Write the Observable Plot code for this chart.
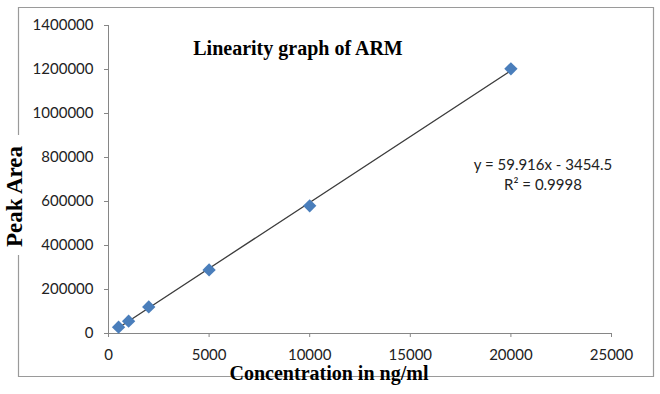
<!DOCTYPE html>
<html><head><meta charset="utf-8">
<script src="https://cdn.jsdelivr.net/npm/d3@7"></script>
<script src="https://cdn.jsdelivr.net/npm/@observablehq/plot@0.6"></script>
<style>body{margin:0;background:#fff}</style>
</head><body><div id="chart"></div><script>
const concentration = [500, 1000, 2000, 5000, 10000, 20000];
const peakArea = [28600, 56000, 121000, 289000, 580500, 1203000];
const xTicks = [0, 5000, 10000, 15000, 20000, 25000];
const yTicks = [0, 200000, 400000, 600000, 800000, 1000000, 1200000, 1400000];
const slope = 59.916, intercept = -3454.5;
const equationText = ["y = 59.916x - 3454.5", "R² = 0.9998"];
const titleText = "Linearity graph of ARM";
const xTitle = "Concentration in ng/ml";
const yTitle = "Peak Area";

const points = concentration.map((x, i) => ({x, y: peakArea[i]}));
const xmin = d3.min(concentration), xmax = d3.max(concentration);
const trend = [xmin, xmax].map(x => ({x, y: slope * x + intercept}));
const diamond = d3.symbolDiamond2 || "diamond";
const serif = "'Liberation Serif', 'Times New Roman', serif";

const chart = Plot.plot({
  width: 660, height: 394,
  marginLeft: 108, marginRight: 49, marginTop: 25, marginBottom: 61,
  x: {domain: [0, 25000]},
  y: {domain: [0, 1400000]},
  style: {fontFamily: "Lato, 'Open Sans', sans-serif", fontSize: "15px", color: "#222", background: "#fff"},
  marks: [
    Plot.ruleY([0], {stroke: "#868686"}),
    Plot.ruleX([0], {stroke: "#868686"}),
    Plot.axisX(xTicks, {tickFormat: d3.format("d"), tickSize: 4, tickPadding: 12, stroke: "#868686", fill: "#222", label: null}),
    Plot.axisY(yTicks, {tickFormat: d3.format("d"), tickSize: 4, tickPadding: 11, stroke: "#868686", fill: "#222", label: null}),
    Plot.line(trend, {x: "x", y: "y", stroke: "#3c3c3c", strokeWidth: 1.3}),
    Plot.dot(points, {x: "x", y: "y", symbol: diamond, r: 6, fill: "#4a7ebb", stroke: "none"}),
    Plot.text([titleText], {frameAnchor: "top", dx: -62, dy: 15, fontFamily: serif, fontWeight: "bold", fontSize: 20, fill: "#000"}),
    Plot.text([equationText.join("\n")], {frameAnchor: "top", dx: 183, dy: 131, lineHeight: 1.3, fontSize: 15, fill: "#222"}),
    Plot.text([xTitle], {frameAnchor: "bottom", dx: -31, dy: 46, fontFamily: serif, fontWeight: "bold", fontSize: 20, fill: "#000"}),
    Plot.text([yTitle], {frameAnchor: "left", textAnchor: "middle", dx: -94, dy: 17, rotate: -90, fontFamily: serif, fontWeight: "bold", fontSize: 23, fill: "#000"})
  ]
});

const svg = d3.select(chart);
svg.insert("path", ":first-child")
  .attr("d", "M18.5,135 V7.5 H653.5 V376.5 H18.5 V255")
  .attr("fill", "none").attr("stroke", "#9a9a9a").attr("stroke-width", 1.2);
document.getElementById("chart").appendChild(chart);
</script></body></html>
